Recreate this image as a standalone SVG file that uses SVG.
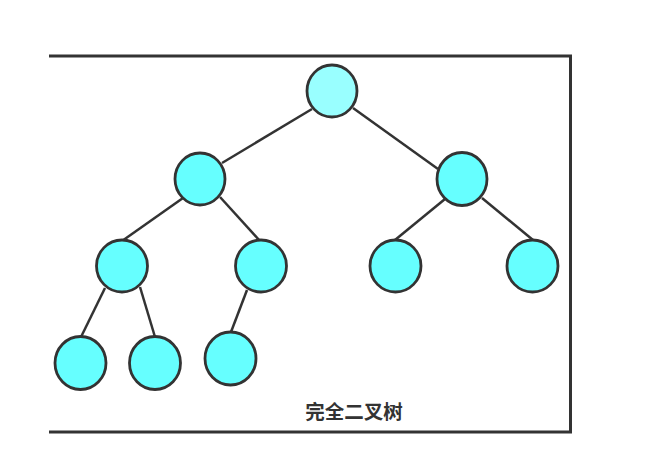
<svg xmlns="http://www.w3.org/2000/svg" width="656" height="456" viewBox="0 0 656 456">
<style>
.frame{fill:none;stroke:#333;stroke-width:3}
.edge{stroke:#333;stroke-width:2.5;fill:none}
.node{fill:#66FFFF;stroke:#333;stroke-width:2.8}
.root{fill:#99FFFF}
.label{font-family:"Noto Sans CJK SC","Liberation Sans",sans-serif;font-size:19.5px;font-weight:bold;fill:#333;text-anchor:middle}
</style>
<rect width="656" height="456" fill="#fff"/>
<path class="frame" d="M49,56 H570.5 V432 H49"/>
<g id="connectors">
<line class="edge" x1="312" y1="109" x2="222" y2="163"/>
<line class="edge" x1="353" y1="108" x2="438" y2="169"/>
<line class="edge" x1="183" y1="198" x2="122" y2="241"/>
<line class="edge" x1="220" y1="197" x2="260" y2="241"/>
<line class="edge" x1="445" y1="199" x2="395" y2="240"/>
<line class="edge" x1="482" y1="198" x2="533" y2="240"/>
<line class="edge" x1="105" y1="288" x2="81" y2="337"/>
<line class="edge" x1="140" y1="287" x2="155" y2="337"/>
<line class="edge" x1="247" y1="290" x2="231" y2="332"/>
</g>
<g id="n1"><ellipse class="node root" cx="332" cy="91" rx="25" ry="26"/></g>
<g id="n2"><ellipse class="node" cx="200" cy="179" rx="25" ry="26"/></g>
<g id="n3"><ellipse class="node" cx="462" cy="179" rx="25" ry="26.5"/></g>
<g id="n4"><ellipse class="node" cx="122" cy="266" rx="25.5" ry="26"/></g>
<g id="n5"><ellipse class="node" cx="261" cy="266" rx="25.5" ry="26"/></g>
<g id="n6"><ellipse class="node" cx="395.5" cy="266" rx="25.5" ry="26"/></g>
<g id="n7"><ellipse class="node" cx="532.5" cy="266" rx="25.5" ry="26"/></g>
<g id="n8"><ellipse class="node" cx="80.5" cy="363" rx="25.5" ry="26.5"/></g>
<g id="n9"><ellipse class="node" cx="155" cy="363" rx="25.5" ry="26.5"/></g>
<g id="n10"><ellipse class="node" cx="230.5" cy="358.5" rx="25.5" ry="26.5"/></g>
<g id="caption"><text class="label" x="354" y="419">完全二叉树</text></g>
</svg>
